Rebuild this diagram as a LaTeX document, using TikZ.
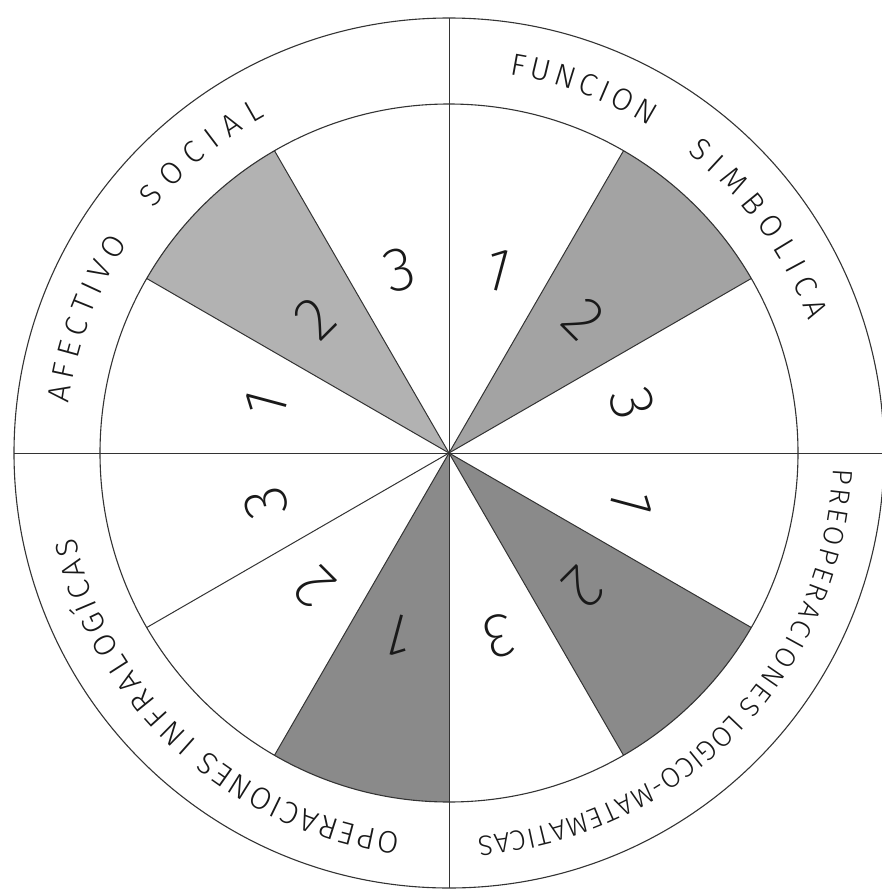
\documentclass[tikz,border=0pt]{standalone}
\usepackage{fontspec}
\setmainfont{Fira Sans ExtraLight}
\newfontfamily\letterfont{Fira Sans Light}
\usetikzlibrary{calc,decorations.text}
% ring word along a clockwise arc: #1 font size, #2 start angle, #3 end angle, #4 radius, #5 text
\newcommand\ringword[5]{%
  \path[decorate, decoration={text along path, text align=fit to path,
      text color=black!90,
      text={|\letterfont\fontsize{#1}{#1}\selectfont|#5}}]
    (#2:#4) arc[start angle=#2, end angle=#3, radius=#4];}
\begin{document}
\begin{tikzpicture}[x=1pt,y=1pt,
  ring/.style={line width=1.1pt, draw=black!80},
  spoke/.style={line width=1pt, draw=black!80},
  shadeA/.style={fill=black!36},
  shadeB/.style={fill=black!30},
  shadeC/.style={fill=black!46},
  digit/.style={font=\fontsize{62}{62}\selectfont, inner sep=0pt, text=black!90}]
\useasboundingbox (0,0) rectangle (881,-894);
\fill[white] (0,0) rectangle (881,-894);
\coordinate (C) at (449,-453);
\begin{scope}[shift={(C)}]
  % shaded sectors
  \fill[shadeA] (0,0) -- (30:349) arc[start angle=30, end angle=60, radius=349] -- cycle;
  \fill[shadeB] (0,0) -- (120:349) arc[start angle=120, end angle=150, radius=349] -- cycle;
  \fill[shadeC] (0,0) -- (240:349) arc[start angle=240, end angle=270, radius=349] -- cycle;
  \fill[shadeC] (0,0) -- (300:349) arc[start angle=300, end angle=330, radius=349] -- cycle;
  % circles
  \draw[ring] (0,0) circle[radius=435];
  \draw[ring] (0,0) circle[radius=349];
  % quadrant lines
  \draw[spoke] (180:435) -- (0:435);
  \draw[spoke] (90:435) -- (270:435);
  % sector spokes
  \foreach \a in {30,60,120,150,210,240,300,330}
    \draw[spoke] (0,0) -- (\a:349);
  % digits
  \foreach \a/\d [count=\n] in {75/1,45/2,15/3,105/3,135/2,165/1,195/3,225/2,255/1,345/1,315/2,285/3}
    \node[digit, rotate=\a-90] (dig-\n) at (\a:190) {\d};
  % ring labels
  \ringword{31}{172.6}{146.9}{383.3}{AFECTIVO}
  \ringword{31}{140.4}{118.6}{383.3}{SOCIAL}
  \ringword{31}{80.9}{58.5}{383.3}{FUNCION}
  \ringword{31}{51.6}{20.1}{383.3}{SIMBOLICA}
  \ringword{28}{-2.3}{-41.3}{384.4}{PREOPERACIONES}
  \ringword{28}{-42.6}{-85.8}{384.4}{LOGICO-MATEMATICAS}
  \ringword{31}{262.7}{230.9}{383.3}{OPERACIONES}
  \ringword{31}{228.9}{192.7}{383.3}{INFRALOGÍCAS}
\end{scope}
\end{tikzpicture}
\end{document}
